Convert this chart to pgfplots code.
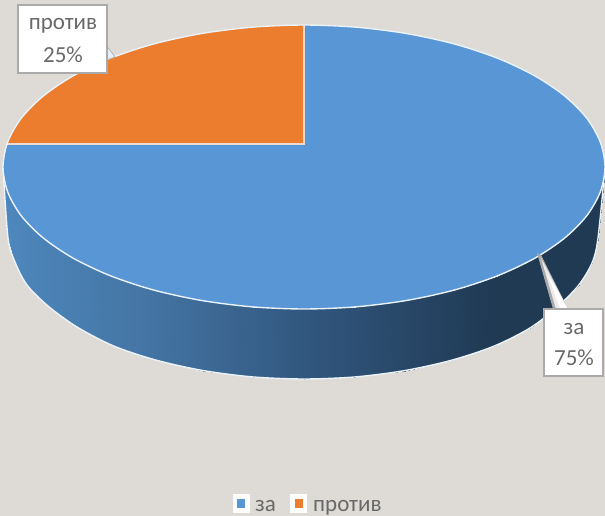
\documentclass[border=0pt]{standalone}
\usepackage{pgfplots}
\pgfplotsset{compat=1.18}
\usepackage{fontspec}
\setmainfont{Carlito}
\definecolor{bg}{RGB}{222,219,214}
\definecolor{pieblue}{RGB}{89,150,214}
\definecolor{pieorange}{RGB}{236,125,46}
\definecolor{edge}{RGB}{235,243,250}
\definecolor{boxline}{RGB}{170,170,170}
\definecolor{txt}{RGB}{105,105,105}
\begin{document}
\begin{tikzpicture}
\begin{axis}[
  scale only axis, width=605pt, height=516pt,
  xmin=0, xmax=605, ymin=0, ymax=516, y dir=reverse,
  axis lines=none, ticks=none, clip=true,
  colormap={side}{rgb255(0)=(78,136,190) rgb255(150)=(68,116,163) rgb255(300)=(50,88,128) rgb255(490)=(32,58,84) rgb255(605)=(32,58,84)},
  point meta min=0, point meta max=605,
]
% background
\addplot[fill=bg, draw=none, forget plot] coordinates {(0,0)(605,0)(605,516)(0,516)} -- cycle;
% side wall of the pie
\addplot[patch, patch type=rectangle, shader=interp, point meta=x, forget plot] coordinates {
(3,167)(7.6,191.7)(15,262)(8,238)
(7.6,191.7)(21.1,215.6)(27,285)(15,262)
(21.1,215.6)(43.3,238)(48,306)(27,285)
(43.3,238)(73.4,258.3)(77,327)(48,306)
(73.4,258.3)(110.5,275.8)(113.7,346)(77,327)
(110.5,275.8)(153.5,290)(156,360.1)(113.7,346)
(153.5,290)(201.1,300.4)(202.8,370.5)(156,360.1)
(201.1,300.4)(251.7,306.8)(252.6,376.9)(202.8,370.5)
(251.7,306.8)(304,309)(304,379)(252.6,376.9)
(304,309)(356.3,306.8)(355.4,376.9)(304,379)
(356.3,306.8)(406.9,300.4)(405.2,370.5)(355.4,376.9)
(406.9,300.4)(454.5,290)(452,360.1)(405.2,370.5)
(454.5,290)(497.5,275.8)(494.3,346)(452,360.1)
(497.5,275.8)(534.6,258.3)(530,328)(494.3,346)
(534.6,258.3)(564.7,238)(556,308)(530,328)
(564.7,238)(586.9,215.6)(578,286)(556,308)
(586.9,215.6)(600.4,191.7)(592,263)(578,286)
(600.4,191.7)(605,167)(598,238)(592,263)
};
% lower edge highlight
\addplot[smooth, draw=edge, line width=1.4pt, forget plot] coordinates {
(3,167)(8,238)(15,262)(27,285)(48,306)(77,327)(113.7,346)(156,360.1)(202.8,370.5)(252.6,376.9)(304,379)(355.4,376.9)(405.2,370.5)(452,360.1)(494.3,346)(530,328)(556,308)(578,286)(592,263)(598,238)(605,167)};
% top face: for (75 %)
\addplot[smooth cycle, fill=pieblue, draw=none, forget plot] coordinates {
(605,167)(600.4,191.7)(586.9,215.6)(564.7,238)(534.6,258.3)(497.5,275.8)(454.5,290)(406.9,300.4)(356.3,306.8)(304,309)(251.7,306.8)(201.1,300.4)(153.5,290)(110.5,275.8)(73.4,258.3)(43.3,238)(21.1,215.6)(7.6,191.7)(3,167)(7.6,142.3)(21.1,118.4)(43.3,96)(73.4,75.7)(110.5,58.2)(153.5,44)(201.1,33.6)(251.7,27.2)(304,25)(356.3,27.2)(406.9,33.6)(454.5,44)(497.5,58.2)(534.6,75.7)(564.7,96)(586.9,118.4)(600.4,142.3)};
% top face: protiv (25 %)
\addplot[fill=pieorange, draw=none, forget plot] coordinates {
(304,144)(304,25)(277.6,25.6)(251.7,27.2)(226,30)(201.1,33.6)(176.8,38.4)(153.5,44)(131.4,50.6)(110.5,58.2)(91,66.6)(73.4,75.7)(57.3,85.4)(43.3,96)(31.2,107)(21.1,118.4)(13.4,130.2)(7.6,142.3)(7,144)} -- cycle;
% white borders of the slices
\addplot[draw=edge!80!pieorange, line width=1.6pt, forget plot] coordinates {(6,144)(304,144)(304,25)};
\addplot[smooth cycle, draw=edge, line width=1.4pt, forget plot] coordinates {
(605,167)(600.4,191.7)(586.9,215.6)(564.7,238)(534.6,258.3)(497.5,275.8)(454.5,290)(406.9,300.4)(356.3,306.8)(304,309)(251.7,306.8)(201.1,300.4)(153.5,290)(110.5,275.8)(73.4,258.3)(43.3,238)(21.1,215.6)(7.6,191.7)(3,167)(7.6,142.3)(21.1,118.4)(43.3,96)(73.4,75.7)(110.5,58.2)(153.5,44)(201.1,33.6)(251.7,27.2)(304,25)(356.3,27.2)(406.9,33.6)(454.5,44)(497.5,58.2)(534.6,75.7)(564.7,96)(586.9,118.4)(600.4,142.3)};
% leaders
\addplot[fill=boxline, draw=none, forget plot] coordinates {(537,253)(553,309)(568,309)(541,255)} -- cycle;
\addplot[fill=black!8, draw=none, forget plot] coordinates {(541,258)(556,309)(568,309)} -- cycle;
\addplot[fill=white, draw=none, forget plot] coordinates {(548,275)(560,309)(568,309)} -- cycle;
\addplot[fill=white!85!pieblue, draw=boxline, line width=0.6pt, forget plot] coordinates {(106,45)(115,57)(106,60)} -- cycle;
% label boxes
\addplot[fill=white, draw=boxline, line width=1.4pt, forget plot] coordinates {(18,5)(107,5)(107,73)(18,73)} -- cycle;
\addplot[fill=white, draw=boxline, line width=1.4pt, forget plot] coordinates {(544,309)(603,309)(603,376)(544,376)} -- cycle;
% legend swatches
\addplot[fill=white!95!bg, draw=none, forget plot] coordinates {(233,494)(250,494)(250,513)(233,513)} -- cycle;
\addplot[fill=pieblue, draw=none, forget plot] coordinates {(237,499)(245,499)(245,508)(237,508)} -- cycle;
\addplot[fill=white!95!bg, draw=none, forget plot] coordinates {(290,494)(307,494)(307,513)(290,513)} -- cycle;
\addplot[fill=pieorange, draw=none, forget plot] coordinates {(295,499)(303,499)(303,508)(295,508)} -- cycle;
% texts
\node[text=txt, font=\fontsize{23}{23}\selectfont] at (axis cs:63,26) {против};
\node[text=txt, font=\fontsize{23}{23}\selectfont] at (axis cs:63,55) {25\%};
\node[text=txt, font=\fontsize{23}{23}\selectfont] at (axis cs:574,329) {за};
\node[text=txt, font=\fontsize{23}{23}\selectfont] at (axis cs:574,358) {75\%};
\node[text=txt, font=\fontsize{23}{23}\selectfont, anchor=base west, inner sep=0pt] at (axis cs:255,511) {за};
\node[text=txt, font=\fontsize{23}{23}\selectfont, anchor=base west, inner sep=0pt] at (axis cs:313,511) {против};
\end{axis}
\end{tikzpicture}
\end{document}
